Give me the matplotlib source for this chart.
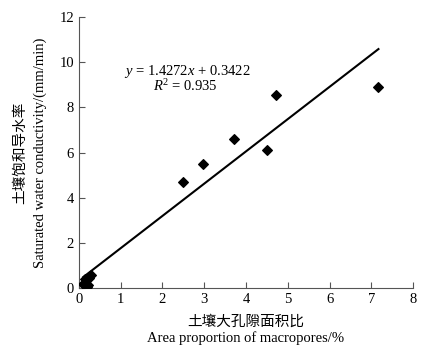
import matplotlib

matplotlib.use('Agg')
import matplotlib.pyplot as plt

plt.rcParams['font.family'] = ['Liberation Serif', 'Noto Sans CJK SC']
plt.rcParams['mathtext.fontset'] = 'custom'
plt.rcParams['mathtext.rm'] = 'Liberation Serif'
plt.rcParams['mathtext.it'] = 'Liberation Serif:italic'

# 观测点 (大孔隙面积比 %, 饱和导水率 mm/min)
area = [0.1, 0.15, 0.2, 0.22, 0.25, 0.3, 2.48, 2.96, 3.72, 4.51, 4.72, 7.17]
ks = [0.2, 0.4, 0.05, 0.15, 0.45, 0.6, 4.7, 5.5, 6.6, 6.1, 8.55, 8.9]
slope, intercept = 1.4272, 0.3422

fig = plt.figure(figsize=(4.29, 3.51), dpi=100)
ax = fig.add_axes([0.184, 0.179, 0.779, 0.773])

ax.scatter(area, ks, s=24, c='k', marker='D', zorder=3)
x_fit = [min(area), max(area)]
y_fit = [slope * v + intercept for v in x_fit]
ax.plot(x_fit, y_fit, c='k', lw=1.5)

ax.set_xlim(0, 8)
ax.set_ylim(0, 12)
ax.set_xticks(range(0, 9))
ax.set_yticks(range(0, 13, 2))
ax.tick_params(direction='in', labelsize=10.5, length=4, color='#555555')
ax.spines['top'].set_visible(False)
ax.spines['right'].set_visible(False)
for s in ['left', 'bottom']:
    ax.spines[s].set_color('#555555')

ax.text(2.6, 9.45, '$y$ = 1.4272$x$ + 0.3422', ha='center', fontsize=10.5)
ax.text(2.55, 8.7, '$R$$^2$ = 0.935', ha='center', fontsize=10.5)

fig.text(0.573, 0.083, '土壤大孔隙面积比', ha='center', va='center', fontsize=10.5)
fig.text(0.573, 0.037, 'Area proportion of macropores/%', ha='center', va='center', fontsize=10.5)
fig.text(0.047, 0.565, '土壤饱和导水率', ha='center', va='center', rotation=90, fontsize=10.5)
fig.text(0.093, 0.565, 'Saturated water conductivity/(mm/min)', ha='center', va='center',
         rotation=90, fontsize=10.5)

plt.savefig('out.png', dpi=100)
